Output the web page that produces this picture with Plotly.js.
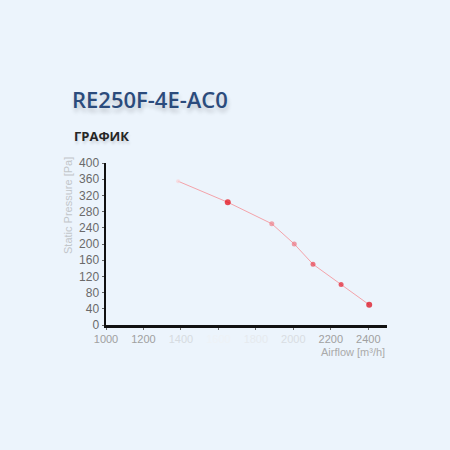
<!DOCTYPE html>
<html>
<head>
<meta charset="utf-8">
<script src="https://cdn.plot.ly/plotly-3.0.1.min.js"></script>
<style>
  html, body { margin: 0; padding: 0; background: #ecf4fc; }
  #chart { width: 450px; height: 450px; }
</style>
</head>
<body>
<div id="chart"></div>
<script>
// curve
var airflow = [1385, 1650, 1885, 2005, 2105, 2255, 2405];
var pressure = [355, 303, 250, 200, 150, 100, 50];
var pointColors = ['#f9d2d6', '#e4000c', '#f0808a', '#ee7380', '#ea3c4a', '#e41e2e', '#dc0010'];
var pointSizes = [4, 6, 5, 5, 5, 5, 6];

var xTicks = [1000, 1200, 1400, 1600, 1800, 2000, 2200, 2400];
var xTickColors = ['#a0a0a0', '#a0a0a0', '#d6dbe0', '#eef2f6', '#e6eaee', '#d9dde2', '#a0a0a0', '#a0a0a0'];
var yTicks = [0, 40, 80, 120, 160, 200, 240, 280, 320, 360, 400];

var xTickText = xTicks.map(function (v, i) {
  return '<span style="color:' + xTickColors[i] + '">' + v + '</span>';
});

var trace = {
  x: airflow,
  y: pressure,
  type: 'scatter',
  mode: 'lines+markers',
  line: { color: '#f4a3aa', width: 1 },
  marker: { color: pointColors, size: pointSizes, line: { width: 0 } },
  hoverinfo: 'x+y'
};

var layout = {
  width: 450,
  height: 450,
  margin: { l: 106, r: 63, t: 163, b: 125 },
  paper_bgcolor: '#ecf4fc',
  plot_bgcolor: '#ecf4fc',
  showlegend: false,
  font: { family: 'Liberation Sans, Arial, sans-serif', size: 12, color: '#777' },
  title: {
    text: 'RE250F-4E-AC0',
    x: 72 / 450,
    xanchor: 'left',
    xref: 'container',
    y: 1 - 100 / 450,
    yanchor: 'middle',
    yref: 'container',
    font: { family: 'Open Sans, Noto Sans, sans-serif', size: 22, weight: 600, color: '#2b4b7c',
            shadow: '1px 4px 4px rgba(0,0,0,0.18)' }
  },
  xaxis: {
    range: [1000, 2500],
    tickvals: xTicks,
    ticktext: xTickText,
    showgrid: false,
    zeroline: false,
    showline: true,
    linecolor: '#111',
    linewidth: 2.5,
    ticks: 'outside',
    ticklen: 2,
    tickcolor: '#666',
    tickfont: { size: 11 },
    fixedrange: true
  },
  yaxis: {
    range: [0, 400],
    tickvals: yTicks,
    showgrid: false,
    zeroline: false,
    showline: true,
    linecolor: '#111',
    linewidth: 2.5,
    ticks: 'outside',
    ticklen: 2,
    tickcolor: '#666',
    tickfont: { size: 12, color: '#6a6a6a' },
    fixedrange: true
  },
  annotations: [
    {
      text: 'ГРАФИК',
      xref: 'paper', yref: 'paper',
      x: (72 - 106) / 281, y: (325 - 136) / 162,
      xanchor: 'left', yanchor: 'middle',
      showarrow: false,
      font: { family: 'Open Sans, Noto Sans, sans-serif', size: 13, weight: 700, color: '#262626',
              shadow: '1px 3px 3px rgba(0,0,0,0.12)' }
    },
    {
      text: 'Airflow [m³/h]',
      xref: 'paper', yref: 'paper',
      x: 1, y: (325 - 352) / 162,
      xanchor: 'right', yanchor: 'middle',
      showarrow: false,
      font: { size: 11, color: '#aaaaaa' }
    },
    {
      text: 'Static Pressure [Pa]',
      xref: 'paper', yref: 'paper',
      x: (68 - 106) / 281, y: (325 - 206) / 162,
      xanchor: 'center', yanchor: 'middle',
      textangle: -90,
      showarrow: false,
      font: { size: 11, color: '#c2c6ca' }
    }
  ]
};

Plotly.newPlot('chart', [trace], layout, { displayModeBar: false, staticPlot: true });
</script>
</body>
</html>
